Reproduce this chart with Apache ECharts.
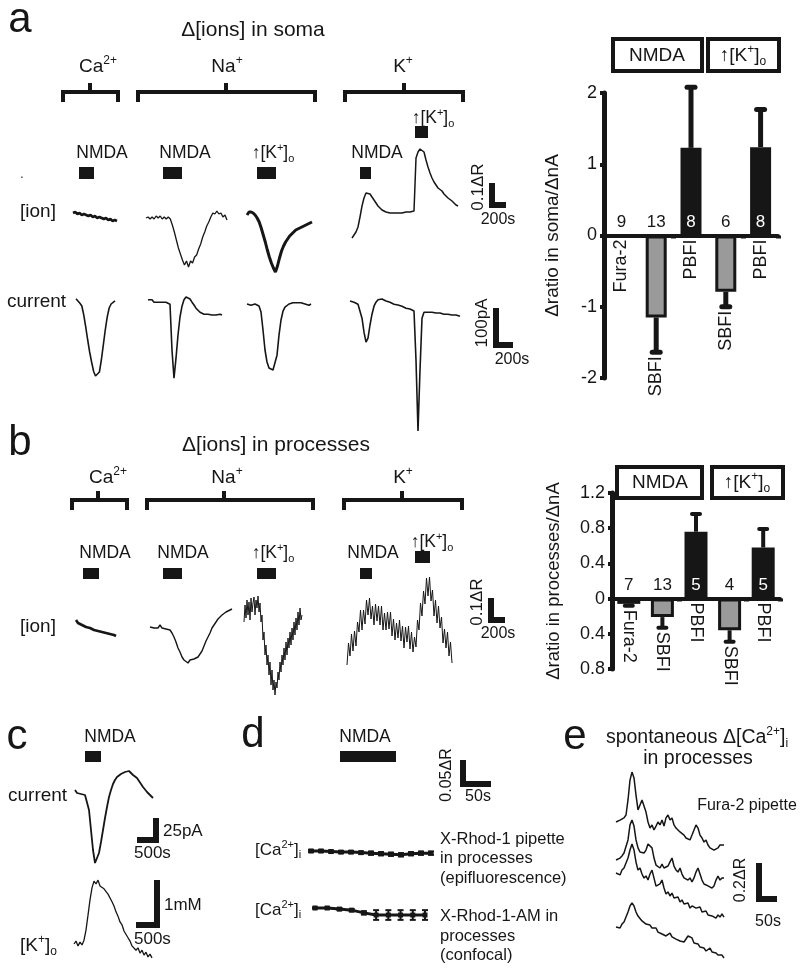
<!DOCTYPE html>
<html>
<head>
<meta charset="utf-8">
<script src="https://cdn.jsdelivr.net/npm/echarts@6/dist/echarts.min.js"></script>
<style>
    html, body { margin: 0; padding: 0; background: #fff; }
    #fig { width: 800px; height: 971px; }
</style>
</head>
<body>
<div id="fig"></div>
<script>
    var FONT = '"Liberation Sans", Arial, sans-serif'
    var INK = '#161616'
    var GREY = '#9a9a9a'

    // ---- bar charts (a: soma, b: processes) ----
    var barCats = ['Fura-2', 'SBFI', 'PBFI', 'SBFI', 'PBFI']
    var barFill = [INK, GREY, INK, GREY, INK]
    var somaMean = [0.01, -1.15, 1.23, -0.79, 1.24]
    var somaErrEnd = [0.01, -1.64, 2.08, -1.0, 1.77]
    var somaN = [9, 13, 8, 6, 8]
    var procMean = [-0.06, -0.21, 0.76, -0.36, 0.58]
    var procErrEnd = [-0.08, -0.33, 0.96, -0.49, 0.79]
    var procN = [7, 13, 5, 4, 5]

    // ---- traces, a: [ion] in mdR, current in pA ----
    var aCaIon = [0, 4, -4, 0, -8, -4, -8, -12, -8, -16, -12, -20, -16, -20, -24, -20, -28, -24, -32, -28, -32]
    var aNaIon = [0, 4, -4, 4, -4, 8, 0, 8, -4, 4, -4, 4, -4, -28, -56, -88, -120, -144, -168, -188, -172, -196, -172, -180, -156, -148, -124, -104, -76, -56, -32, -16, 4, 20, 16, 28, 16, 20, 4, 12, -8]
    var aNaKIon = [-8, 4, 4, 0, -8, -20, -36, -60, -88, -116, -148, -176, -200, -220, -236, -212, -180, -152, -132, -116, -104, -92, -84, -76, -68, -64, -60, -56, -52, -48, -44, -40, -36]
    var aKIon = [-104, -96, -80, -60, -20, 24, 56, 76, 84, 72, 60, 48, 36, 24, 16, 8, 4, 0, 0, -4, 0, -4, 0, -4, 0, -4, 0, 0, -4, 0, 0, 4, 216, 240, 252, 256, 240, 208, 180, 156, 136, 120, 108, 96, 92, 84, 72, 64, 56, 48, 44, 36, 28, 24]
    var aCaCur = [8, 5, -3, -10, -33, -63, -95, -125, -150, -173, -185, -188, -175, -145, -108, -70, -38, -15, -5, 0, 3]
    var aNaCur = [3, 0, 3, -3, 0, -3, 0, -3, -5, -3, -5, -8, -123, -193, -143, -85, -40, -13, 3, 10, 10, 5, -3, -10, -18, -23, -28, -30, -33, -35, -33, -35, -35, -33, -35, -35, -33, -35]
    var aNaKCur = [0, 0, -3, 0, 0, -3, -5, -20, -65, -115, -145, -160, -165, -165, -163, -128, -78, -40, -18, -8, -3, 0, 3, 3, 0, 3, 0, 3, 0, 0, 0, -3, 0]
    var aKCur = [0, -3, -3, -5, -8, -13, -43, -78, -103, -93, -60, -33, -13, -3, 3, 5, 5, 3, 0, -3, -3, -5, -8, -8, -10, -13, -13, -15, -18, -20, -20, -23, -25, -148, -325, -173, -43, -28, -25, -28, -28, -28, -28, -30, -30, -30, -30, -33, -33, -33, -33, -35, -35, -35, -38, -38]

    // ---- traces, b: [ion] in mdR ----
    var bCaIon = [4, -8, -4, -16, -12, -24, -20, -28, -24, -36, -32, -40, -36, -44, -40, -48, -44, -52, -48, -56, -60]
    var bNaIon = [0, 8, -4, 4, -4, 8, -4, 0, -8, -4, -12, -24, -40, -60, -84, -100, -120, -132, -124, -144, -132, -140, -128, -132, -120, -112, -96, -76, -56, -40, -24, -4, 8, 20, 32, 36, 48, 52, 60, 56, 68, 72]
    var bNaKIon = [-8, 60, 8, 80, 20, 72, 0, 88, 32, 68, 92, 20, 80, 48, 96, 32, 68, -8, 20, -80, -48, -140, -100, -180, -140, -220, -168, -260, -200, -280, -240, -300, -248, -272, -208, -240, -168, -208, -140, -180, -112, -160, -88, -140, -72, -112, -48, -100, -32, -80, -8, -60, 8, -40, 32, -20, 48, 0, 20]
    var bKIon = [-88, 0, -52, 36, -32, 48, -12, 84, 44, 132, 52, 132, 76, 172, 112, 180, 96, 148, 72, 156, 88, 148, 72, 148, 52, 120, 52, 124, 56, 124, 28, 96, 12, 80, 20, 92, 8, 68, -20, 64, 4, 68, -24, 44, -36, 24, -16, 92, 52, 160, 108, 208, 156, 260, 188, 264, 168, 212, 108, 172, 80, 148, 60, 104, 0, 56, -20, 44, -52, 4, -80]

    // ---- c: current in pA, [K+]o in mM ----
    var cCur = [2, -1, 1, -2, -1, -3, -5, -18, -38, -58, -71, -70, -61, -50, -38, -26, -15, -5, 2, 8, 12, 15, 17, 18, 19, 20, 21, 21, 19, 17, 16, 14, 11, 8, 5, 3, 0, -2, -4, -6]
    var cK = [0, 0.06, -0.04, 0.04, -0.02, 0.08, 0.29, 0.6, 0.92, 1.17, 1.31, 1.25, 1.33, 1.21, 1.25, 1.15, 1.17, 1.04, 1, 0.88, 0.79, 0.67, 0.58, 0.46, 0.4, 0.27, 0.23, 0.13, 0.06, -0.04, 0, -0.13, -0.08, -0.19, -0.13, -0.23, -0.17, -0.27, -0.21, -0.29]

    // ---- d: mean [Ca2+]i in mdR with sem ----
    var dPip = [0, 0, -1, -2, -2, -3, -4, -5, -6, -7, -5, -4, -4]
    var dPipErr = [2, 2, 2, 2, 2, 2, 3, 3, 3, 3, 3, 3, 3]
    var dAM = [0, 0, -2, -4, -9, -13, -13, -13, -13, -13]
    var dAMErr = [1, 1, 2, 2, 3, 9, 9, 9, 9, 9]

    // ---- e: spontaneous [Ca2+]i in mdR ----
    var e1 = [0, -10, 10, 0, 21, 36, 113, 215, 256, 226, 138, 62, 72, 113, 103, 51, 0, -31, -15, -41, -21, 0, -15, 10, -21, 21, 36, 10, 21, -15, -31, -21, -51, -41, -67, -82, -72, -92, -67, -41, -15, -31, -67, -82, -103, -92, -118, -133, -123, -144, -154, -133, -118, -108, -118]
    var e2 = [0, -10, 10, 21, 36, 41, 103, 180, 205, 174, 103, 62, 41, 51, 36, 51, 82, 92, 62, 10, -26, -31, -41, -21, -41, -51, -31, -10, 10, -31, -51, -62, -41, -72, -92, -82, -103, -92, -113, -92, -62, -41, -72, -103, -123, -113, -133, -123, -144, -133, -103, -82, -103, -92, -92]
    var e3 = [0, 5, -10, 15, 26, 36, 77, 118, 149, 118, 56, 15, 26, -5, -26, -15, -36, -5, 15, -26, -67, -77, -56, -36, -77, -108, -97, -118, -103, -128, -138, -123, -149, -138, -159, -169, -154, -180, -169, -159, -180, -190, -174, -200, -210, -195, -215, -205, -220, -210, -231, -215, -226, -210, -226]
    var e4 = [0, 10, -5, 15, 26, 36, 77, 108, 123, 108, 77, 56, 46, 31, 36, 15, 5, 10, -5, -15, -5, -26, -21, -36, -26, -46, -41, -31, -51, -46, -62, -56, -72, -62, -77, -67, -46, -36, -56, -82, -92, -87, -103, -113, -108, -123, -118, -108, -128, -138, -133, -144, -154, -144, -159]

    // trace placement: l/r = pixel span, y0 = pixel of 0, k = px per unit
    var traces = [
        {data: aCaIon, l: 73, r: 117, y0: 213, k: 0.25, w: 2.6},
        {data: aNaIon, l: 146, r: 227, y0: 218, k: 0.25, w: 1.3},
        {data: aNaKIon, l: 247, r: 312, y0: 213, k: 0.25, w: 3},
        {data: aKIon, l: 352, r: 458, y0: 212, k: 0.25, w: 1.5},
        {data: aCaCur, l: 76, r: 115, y0: 302, k: 0.4, w: 1.6},
        {data: aNaCur, l: 148, r: 222, y0: 301, k: 0.4, w: 1.6},
        {data: aNaKCur, l: 247, r: 311, y0: 304, k: 0.4, w: 1.6},
        {data: aKCur, l: 350, r: 460, y0: 301, k: 0.4, w: 1.6},
        {data: bCaIon, l: 76, r: 116, y0: 621, k: 0.25, w: 2.6},
        {data: bNaIon, l: 150, r: 232, y0: 627, k: 0.25, w: 1.4},
        {data: bNaKIon, l: 244, r: 302, y0: 620, k: 0.25, w: 1},
        {data: bKIon, l: 347, r: 452, y0: 643, k: 0.25, w: 1},
        {data: cCur, l: 75, r: 153, y0: 792, k: 1, w: 1.8},
        {data: cK, l: 74, r: 152, y0: 944, k: 48, w: 1.3},
        {data: dPip, err: dPipErr, l: 311, r: 431, y0: 851, k: 0.54, w: 3, sym: 5},
        {data: dAM, err: dAMErr, l: 315, r: 425, y0: 908, k: 0.54, w: 3, sym: 5},
        {data: e1, l: 616, r: 724, y0: 822, k: 0.195, w: 1.5},
        {data: e2, l: 616, r: 724, y0: 860, k: 0.195, w: 1.5},
        {data: e3, l: 616, r: 724, y0: 873, k: 0.195, w: 1.5},
        {data: e4, l: 616, r: 724, y0: 927, k: 0.195, w: 1.5}
    ]

    function T (x, y, s, size, o) {
        o = o || {}
        var al = o.align || 'center'
        return {
            type: 'text', x: x, y: y, rotation: o.rot || 0, silent: true, z: 10,
            style: {
                text: s, fill: INK, font: size + 'px ' + FONT,
                align: al, verticalAlign: 'middle', textAlign: al, textVerticalAlign: 'middle'
            }
        }
    }
    // text with real sub/superscripts: {t|..} normal, {p|..} sup, {b|..} sub
    function TR (x, y, s, size, o) {
        var el = T(x, y, s, size, o)
        var small = Math.round(size * 0.62)
        el.style.rich = {
            t: {fontSize: size, fontFamily: FONT, fill: INK, lineHeight: Math.round(size * 1.25), verticalAlign: 'middle'},
            p: {fontSize: small, fontFamily: FONT, fill: INK, lineHeight: small, verticalAlign: 'top'},
            b: {fontSize: small, fontFamily: FONT, fill: INK, lineHeight: small, verticalAlign: 'bottom'}
        }
        return el
    }
    function R (x, y, w, h) {
        return {type: 'rect', silent: true, shape: {x: x, y: y, width: w, height: h}, style: {fill: INK}}
    }
    function box (x, y, w, h) {
        return {type: 'rect', silent: true, shape: {x: x, y: y, width: w, height: h}, style: {fill: '#fff', stroke: INK, lineWidth: 4}}
    }
    function bracket (l, r, yb, c) {
        return [
            {type: 'polyline', silent: true, shape: {points: [[l, yb + 10], [l, yb], [r, yb], [r, yb + 10]]}, style: {stroke: INK, lineWidth: 4, fill: null}},
            {type: 'line', silent: true, shape: {x1: c, y1: yb, x2: c, y2: yb - 9}, style: {stroke: INK, lineWidth: 4}}
        ]
    }
    // L-shaped scale bar, vertical at x (left) unless flip
    function scaleBar (x, yTop, h, w, flip) {
        if (flip) return [R(x, yTop, 6, h), R(x - w + 6, yTop + h - 6, w, 6)]
        return [R(x, yTop, 6, h), R(x, yTop + h - 6, w, 6)]
    }

    var KO = '{t|↑[K}{p|+}{t|]}{b|o}'
    var CAI = '{t|[Ca}{p|2+}{t|]}{b|i}'
    var graphics = [].concat(
        // panel a
        T(20, 20, 'a', 42), T(253, 30, 'Δ[ions] in soma', 21),
        TR(98, 67, '{t|Ca}{p|2+}', 19), TR(227, 67, '{t|Na}{p|+}', 19), TR(403, 67, '{t|K}{p|+}', 19),
        bracket(63, 118, 92, 90), bracket(138, 315, 92, 226), bracket(345, 463, 92, 404),
        T(102, 153, 'NMDA', 17.5), T(185, 153, 'NMDA', 17.5), TR(273, 153, KO, 17.5),
        T(377, 153, 'NMDA', 17.5), TR(433, 118, KO, 17.5),
        R(79, 167, 15, 12), R(163, 167, 19, 12), R(257, 167, 19, 12), R(360, 167, 11, 12), R(415, 126, 13, 12),
        T(22, 175, '.', 12),
        T(20, 212, '[ion]', 19, {align: 'left'}), T(7, 302, 'current', 19, {align: 'left'}),
        scaleBar(489, 183, 25, 17), T(478, 187, '0.1ΔR', 17, {rot: Math.PI / 2}), T(498, 220, '200s', 16),
        scaleBar(493, 308, 40, 20), T(482, 323, '100pA', 17, {rot: Math.PI / 2}), T(512, 360, '200s', 16),
        // panel a bar boxes
        box(613, 39, 89, 32), T(657, 56, 'NMDA', 19), box(708, 39, 71, 32), TR(743, 56, KO, 19),
        // panel b
        T(20, 443, 'b', 42), T(276, 445, 'Δ[ions] in processes', 21),
        TR(108, 478, '{t|Ca}{p|2+}', 19), TR(227, 478, '{t|Na}{p|+}', 19), TR(403, 478, '{t|K}{p|+}', 19),
        bracket(72, 127, 500, 98), bracket(147, 313, 500, 224), bracket(344, 462, 500, 402),
        T(105, 553, 'NMDA', 17.5), T(183, 553, 'NMDA', 17.5), TR(273, 553, KO, 17.5),
        T(373, 553, 'NMDA', 17.5), TR(432, 542, KO, 17.5),
        R(83, 568, 16, 11), R(163, 568, 19, 11), R(257, 568, 19, 11), R(360, 568, 12, 11), R(415, 551, 15, 12),
        T(20, 627, '[ion]', 19, {align: 'left'}),
        scaleBar(488, 598, 25, 17), T(477, 602, '0.1ΔR', 17, {rot: Math.PI / 2}), T(498, 634, '200s', 16),
        box(617, 467, 85, 31), T(660, 483, 'NMDA', 19), box(712, 467, 71, 31), TR(747, 483, KO, 19),
        // panel c
        T(17, 737, 'c', 42), T(110, 737, 'NMDA', 17.5), R(85, 751, 16, 11),
        T(8, 796, 'current', 19, {align: 'left'}),
        scaleBar(153, 818, 25, 22, true), T(163, 831, '25pA', 17, {align: 'left'}), T(134, 853, '500s', 17, {align: 'left'}),
        scaleBar(154, 880, 48, 24, true), T(164, 905, '1mM', 17, {align: 'left'}), T(134, 939, '500s', 17, {align: 'left'}),
        TR(20, 946, '{t|[K}{p|+}{t|]}{b|o}', 19, {align: 'left'}),
        // panel d
        T(253, 735, 'd', 42), T(365, 737, 'NMDA', 17.5), R(340, 751, 56, 11),
        scaleBar(460, 760, 27, 31), T(447, 775, '0.05ΔR', 16, {rot: Math.PI / 2}), T(478, 797, '50s', 16),
        TR(255, 850, CAI, 17, {align: 'left'}), TR(255, 910, CAI, 17, {align: 'left'}),
        T(440, 839, 'X-Rhod-1 pipette', 16.5, {align: 'left'}), T(440, 858, 'in processes', 16.5, {align: 'left'}),
        T(440, 878, '(epifluorescence)', 16.5, {align: 'left'}),
        T(440, 916, 'X-Rhod-1-AM in', 16.5, {align: 'left'}), T(440, 936, 'processes', 16.5, {align: 'left'}),
        T(440, 955, '(confocal)', 16.5, {align: 'left'}),
        // panel e
        T(575, 737, 'e', 42), TR(697, 738, '{t|spontaneous Δ[Ca}{p|2+}{t|]}{b|i}', 19.5), T(698, 759, 'in processes', 19.5),
        T(747, 806, 'Fura-2 pipette', 16),
        scaleBar(756, 863, 39, 21), T(741, 880, '0.2ΔR', 16, {rot: Math.PI / 2}), T(768, 922, '50s', 16)
    )

    var grids = []
    var xAxes = []
    var yAxes = []
    var series = []

    // error bars + n + category labels drawn on the bar grids
    function barOverlay (means, errEnd, ns, labelRot, labelGap, ew) {
        return function (params, api) {
            var i = params.dataIndex
            var m = means[i]
            var e = errEnd[i]
            var p0 = api.coord([i, m])
            var p1 = api.coord([i, e])
            var z = api.coord([i, 0])
            var ch = []
            if (e !== m) {
                ch.push({type: 'line', shape: {x1: p0[0], y1: p0[1], x2: p1[0], y2: p1[1]}, style: {stroke: INK, lineWidth: ew}})
                ch.push({type: 'line', shape: {x1: p1[0] - 4, y1: p1[1], x2: p1[0] + 4, y2: p1[1]}, style: {stroke: INK, lineWidth: ew, lineCap: 'round'}})
            }
            ch.push({
                type: 'text', x: z[0], y: z[1] - 13,
                style: {text: String(ns[i]), fill: m > 0.3 ? '#fff' : INK, font: '17px ' + FONT, align: 'center', verticalAlign: 'middle', textAlign: 'center', textVerticalAlign: 'middle'}
            })
            var low = Math.max(z[1], p0[1], p1[1]) + labelGap
            var al = labelRot > 0 ? 'right' : 'left'
            ch.push({
                type: 'text', x: z[0], y: low, rotation: labelRot,
                style: {text: barCats[i], fill: INK, font: '18px ' + FONT, align: al, verticalAlign: 'middle', textAlign: al, textVerticalAlign: 'middle'}
            })
            return {type: 'group', children: ch}
        }
    }

    function addBarChart (g, means, errEnd, ns, yCfg, labelRot, labelGap, barW, ew) {
        var gi = grids.length
        grids.push({left: g.left, top: g.top, width: g.width, height: g.height, containLabel: false, outerBoundsMode: 'none'})
        xAxes.push({
            type: 'category', gridIndex: gi, data: barCats, boundaryGap: true,
            axisLine: {onZero: true, lineStyle: {color: INK, width: 4}},
            axisTick: {show: true, length: 3, alignWithLabel: false, lineStyle: {color: INK, width: 5}},
            axisLabel: {show: false}, splitLine: {show: false}
        })
        yAxes.push({
            type: 'value', gridIndex: gi, min: yCfg.min, max: yCfg.max, interval: yCfg.interval,
            name: yCfg.name, nameLocation: 'middle', nameGap: yCfg.nameGap,
            nameTextStyle: {color: INK, fontSize: yCfg.nameSize, fontFamily: FONT},
            axisLine: {show: true, lineStyle: {color: INK, width: 5}},
            axisTick: {show: true, length: 4, lineStyle: {color: INK, width: 4}},
            axisLabel: {color: INK, fontSize: 18, fontFamily: FONT, margin: 7, formatter: yCfg.fmt},
            splitLine: {show: false}
        })
        series.push({
            type: 'bar', xAxisIndex: gi, yAxisIndex: gi, barWidth: barW, animation: false, silent: true,
            data: means.map(function (v, i) {
                return {value: v, itemStyle: {color: barFill[i], borderColor: INK, borderWidth: barFill[i] === GREY ? 3 : 0}}
            })
        })
        series.push({
            type: 'custom', xAxisIndex: gi, yAxisIndex: gi, animation: false, silent: true, z: 5,
            renderItem: barOverlay(means, errEnd, ns, labelRot, labelGap, ew),
            data: means.map(function (v, i) { return [i, v, errEnd[i]] })
        })
    }

    addBarChart({left: 604, top: 93, width: 174, height: 285}, somaMean, somaErrEnd, somaN,
        {min: -2, max: 2, interval: 1, name: 'Δratio in soma/ΔnA', nameGap: 42, nameSize: 19},
        Math.PI / 2, 4, 21, 5)
    addBarChart({left: 612, top: 493, width: 168, height: 176}, procMean, procErrEnd, procN,
        {
            min: -0.8, max: 1.2, interval: 0.4, name: 'Δratio in processes/ΔnA', nameGap: 49, nameSize: 18.5,
            fmt: function (v) { return Math.abs(v) < 1e-9 ? '0' : Math.abs(v).toFixed(1) }
        },
        -Math.PI / 2, 4, 23, 4)

    function errRender (params, api) {
        var a = api.coord([api.value(0), api.value(1) - api.value(2)])
        var b = api.coord([api.value(0), api.value(1) + api.value(2)])
        var st = {stroke: INK, lineWidth: 2}
        return {
            type: 'group', children: [
                {type: 'line', shape: {x1: a[0], y1: a[1], x2: b[0], y2: b[1]}, style: st},
                {type: 'line', shape: {x1: a[0] - 3, y1: a[1], x2: a[0] + 3, y2: a[1]}, style: st},
                {type: 'line', shape: {x1: b[0] - 3, y1: b[1], x2: b[0] + 3, y2: b[1]}, style: st}
            ]
        }
    }

    traces.forEach(function (t) {
        var gi = grids.length
        var lo = t.data.map(function (v, i) { return v - (t.err ? t.err[i] : 0) })
        var hi = t.data.map(function (v, i) { return v + (t.err ? t.err[i] : 0) })
        var mn = Math.min.apply(null, lo) - 4 / t.k
        var mx = Math.max.apply(null, hi) + 4 / t.k
        grids.push({
            left: t.l, top: t.y0 - mx * t.k, width: t.r - t.l, height: (mx - mn) * t.k,
            containLabel: false, outerBoundsMode: 'none'
        })
        xAxes.push({type: 'value', gridIndex: gi, min: 0, max: t.data.length - 1, show: false})
        yAxes.push({type: 'value', gridIndex: gi, min: mn, max: mx, show: false})
        series.push({
            type: 'line', xAxisIndex: gi, yAxisIndex: gi, animation: false, silent: true,
            data: t.data.map(function (v, i) { return [i, v] }),
            showSymbol: !!t.sym, symbol: 'rect', symbolSize: t.sym || 0,
            lineStyle: {color: INK, width: t.w}, itemStyle: {color: INK}
        })
        if (t.err) {
            series.push({
                type: 'custom', xAxisIndex: gi, yAxisIndex: gi, animation: false, silent: true,
                renderItem: errRender,
                data: t.data.map(function (v, i) { return [i, v, t.err[i]] })
            })
        }
    })

    var chart = echarts.init(document.getElementById('fig'))
    chart.setOption({
        backgroundColor: '#fff',
        animation: false,
        textStyle: {fontFamily: FONT},
        grid: grids,
        xAxis: xAxes,
        yAxis: yAxes,
        series: series,
        graphic: {elements: graphics}
    })
</script>
</body>
</html>
